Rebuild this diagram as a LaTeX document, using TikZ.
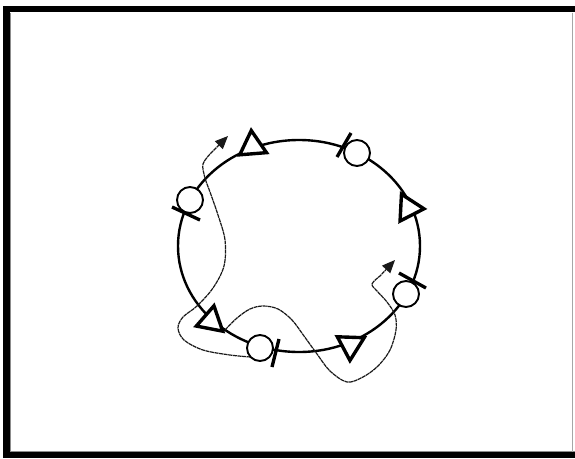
\documentclass[tikz,border=0pt]{standalone}
\usetikzlibrary{shapes.geometric,arrows.meta}
\begin{document}
\begin{tikzpicture}[x=1pt,y=-1pt,
  tri/.style={regular polygon,regular polygon sides=3,draw=black,fill=white,line width=3.4pt,minimum size=31pt,inner sep=0pt,line join=miter},
  ring/.style={circle,draw=black,fill=white,line width=1.9pt,minimum size=26pt,inner sep=0pt},
  tick/.style={line width=3.3pt},
  orbit/.style={line width=2.4pt},
  wavy/.style={line width=1.2pt,draw=black!90,dash pattern=on 4pt off 0.6pt,-{Triangle[length=13pt,width=11pt]}}]
\useasboundingbox (0,0) rectangle (575,458);
% frame
\fill[black] (3,6) rectangle (575,458);
\fill[white] (10,12) rectangle (575,452);
\draw[black!45,line width=0.8pt] (10.5,12.5) -- (10.5,451.6) -- (575,451.6);
\draw[black!35,line width=0.8pt] (572.5,12.5) -- (572.5,451.6);
% ring
\draw[orbit] (299,246) ellipse [x radius=121, y radius=106];
% wavy paths
\coordinate (p1s) at (250.5,357);
\coordinate (p1e) at (228,136);
\coordinate (p2s) at (225,330);
\coordinate (p2e) at (395,260);
\draw[wavy] plot[smooth,tension=0.55] coordinates {(p1s) (230,355) (203,350) (184,340) (178,328) (183,317) (197,306) (213,288) (224,266) (225,240) (218,215) (210,192) (205,178) (203,164) (211,153)} -- (p1e);
\draw[wavy] plot[smooth,tension=0.55] coordinates {(p2s) (237,318) (250,309) (263,306) (278,309) (292,320) (304,336) (317,354) (330,371) (347,382) (363,377) (378,366) (390,350) (396,330) (395,315) (387,302) (377,291) (372,284) (380,276)} -- (p2e);
% ticks
\draw[tick] (172,207) -- (200,220);
\draw[tick] (337,157) -- (351,133);
\draw[tick] (399,273) -- (426,288);
\draw[tick] (279,339) -- (272,367);
% markers
\node[ring] (c1) at (190,200) {};
\node[ring] (c3) at (357,153) {};
\node[ring] (c5) at (406,294) {};
\node[ring] (c7) at (260,348) {};
\node[tri,rotate=4.6] (t2) at (252.5,146) {};
\node[tri,rotate=-93] (t4) at (408.5,208) {};
\node[tri,rotate=178] (t6) at (350.5,345) {};
\node[tri,rotate=-11] (t8) at (211,321) {};
\end{tikzpicture}
\end{document}
